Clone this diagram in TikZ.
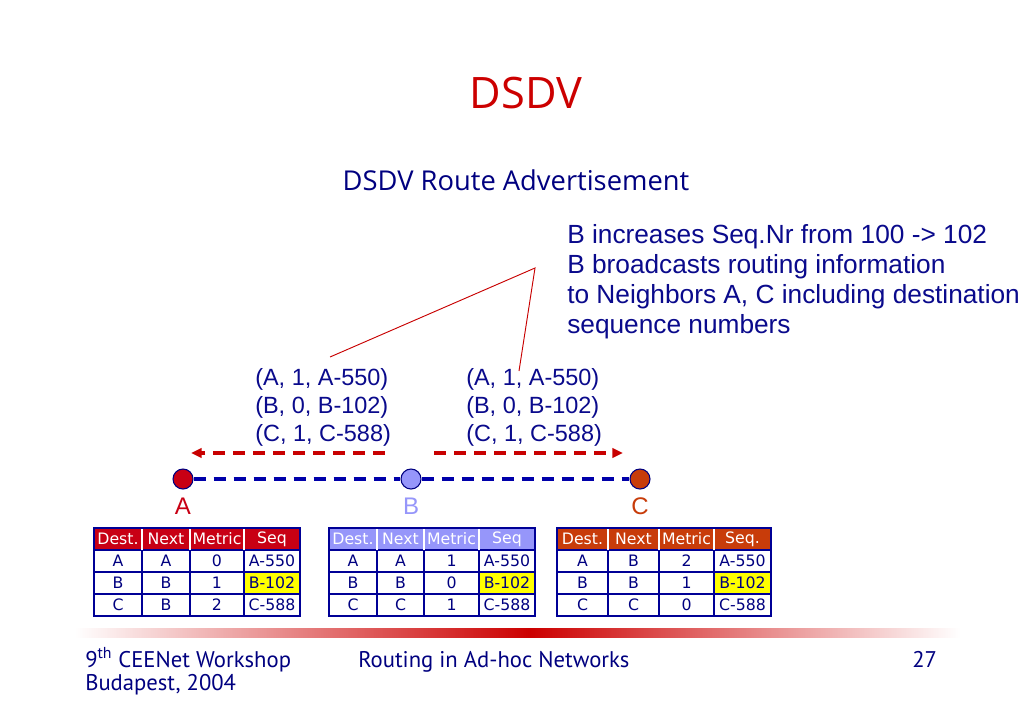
\documentclass[tikz,border=0pt]{standalone}
\usepackage{fontspec}
\setmainfont{Liberation Sans}
\newfontfamily\slidefont{Open Sans}
\newfontfamily\tabfont{DejaVu Sans}
\newfontfamily\footfont{PT Sans}
\usetikzlibrary{arrows.meta}
\definecolor{titlered}{RGB}{204,0,0}
\definecolor{navy}{RGB}{0,0,128}
\definecolor{txtblue}{RGB}{10,10,140}
\definecolor{lineblue}{RGB}{0,0,170}
\definecolor{bordblue}{RGB}{0,0,150}
\definecolor{nodeA}{RGB}{200,0,20}
\definecolor{nodeB}{RGB}{150,150,250}
\definecolor{nodeC}{RGB}{200,60,10}
\definecolor{hl}{RGB}{255,255,0}
\definecolor{msgred}{RGB}{200,0,0}
\newcommand\ca{0}\newcommand\cb{0}\newcommand\cc{0}\newcommand\cd{0}
\newcommand\trow[6]{%
  \node[cell] (#1a) at (\ca,#2) {#3};
  \node[cell] (#1b) at (\cb,#2) {#4};
  \node[cell] (#1c) at (\cc,#2) {#5};
  \node[cell] (#1d) at (\cd,#2) {#6};}
\newcommand\hrow[3]{%
  \node[hcell,text=#3] (#1a) at (\ca,539) {Dest.};
  \node[hcell,text=#3] (#1b) at (\cb,539) {Next};
  \node[hcell,text=#3] (#1c) at (\cc,539) {Metric};
  \node[hcell,text=#3] (#1d) at (\cd,539) {#2};}
\newcommand\tgrid[6]{% x0 x1 x2 x3 x4 headerfill
  \fill[#6] (#1,528) rectangle (#5,550);
  \fill[hl] (#4,572) rectangle (#5,594);
  \draw[inner] (#1,572) -- (#5,572) (#1,594) -- (#5,594) (#1,550) -- (#5,550);
  \draw[inner] (#2,550) -- (#2,616) (#3,550) -- (#3,616) (#4,550) -- (#4,616);
  \draw[hsep] (#2,528) -- (#2,550) (#3,528) -- (#3,550) (#4,528) -- (#4,550);
  \draw[tborder] (#1,528) rectangle (#5,616);}
\tikzset{
  cell/.style={font=\tabfont\fontsize{11.8}{13}\selectfont, text=navy, inner sep=0pt, anchor=center},
  hcell/.style={font=\tabfont\fontsize{11.8}{13}\selectfont, inner sep=0pt, anchor=center},
  inner/.style={draw=bordblue, line width=1.1pt},
  hsep/.style={draw=white, line width=1.1pt},
  tborder/.style={draw=bordblue, line width=2.2pt},
  msg/.style={font=\fontsize{17.6}{21}\selectfont, text=txtblue, align=left, anchor=north west, inner sep=0pt},
  netnode/.style={circle, draw=navy, line width=0.8pt, minimum size=15pt, inner sep=0pt},
  lbl/.style={font=\fontsize{18}{20}\selectfont, inner sep=0pt},
  link/.style={draw=lineblue, line width=2.4pt, dash pattern=on 9pt off 6pt},
  bcast/.style={draw=msgred, line width=2.4pt, dash pattern=on 9pt off 6pt, -{Triangle[length=8pt,width=7pt]}},
  callout/.style={draw=msgred, line width=0.7pt},
  foot/.style={font=\footfont\fontsize{17}{20}\selectfont, text=navy, inner sep=0pt, anchor=base west},
}
\begin{document}
\begin{tikzpicture}[x=0.75pt,y=-0.75pt]
\useasboundingbox (0,0) rectangle (1023,708);
\fill[white] (0,0) rectangle (1023,708);
% titles
\node[font=\slidefont\fontsize{32.5}{36}\selectfont, text=titlered, inner sep=0pt] (title) at (526,93) {DSDV};
\node[font=\slidefont\fontsize{20.5}{24}\selectfont, text=navy, inner sep=0pt] (subtitle) at (516,180) {DSDV Route Advertisement};
% callout text
\node[msg, font=\fontsize{19.7}{22.5}\selectfont] (note) at (567,224) {B increases Seq.Nr from 100 -> 102\\B broadcasts routing information\\to Neighbors A, C including destination\\sequence numbers};
% messages
\node[msg] (msgL) at (255,368) {(A, 1, A-550)\\(B, 0, B-102)\\(C, 1, C-588)};
\node[msg] (msgR) at (466,368) {(A, 1, A-550)\\(B, 0, B-102)\\(C, 1, C-588)};
\coordinate (apex) at (535,268);
\coordinate (cl) at (330,357);
\coordinate (cr) at (519,371);
\draw[callout] (cl) -- (apex) -- (cr);
% network
\node[netnode, fill=nodeA] (A) at (183,479) {};
\node[netnode, fill=nodeB] (B) at (411,479) {};
\node[netnode, fill=nodeC] (C) at (640,479) {};
\draw[link] (A) -- (B);
\draw[link] (B) -- (C);
\coordinate (bl0) at (385,453); \coordinate (bl1) at (191,453);
\coordinate (br0) at (434,453); \coordinate (br1) at (623,453);
\draw[bcast] (bl0) -- (bl1);
\draw[bcast] (br0) -- (br1);
\node[lbl, text=nodeA] (lA) at (183,506) {A};
\node[lbl, text=nodeB] (lB) at (411,506) {B};
\node[lbl, text=nodeC] (lC) at (640,506) {C};
% table A
\tgrid{94}{142}{190}{244}{300}{nodeA}
\renewcommand\ca{118}\renewcommand\cb{166}\renewcommand\cc{217}\renewcommand\cd{272}
\hrow{tah}{Seq}{white}
\trow{ta1}{561}{A}{A}{0}{A-550}
\trow{ta2}{583}{B}{B}{1}{B-102}
\trow{ta3}{605}{C}{B}{2}{C-588}
% table B
\tgrid{329}{377}{424}{479}{535}{nodeB}
\renewcommand\ca{353}\renewcommand\cb{400.5}\renewcommand\cc{451.5}\renewcommand\cd{507}
\hrow{tbh}{Seq}{white}
\trow{tb1}{561}{A}{A}{1}{A-550}
\trow{tb2}{583}{B}{B}{0}{B-102}
\trow{tb3}{605}{C}{C}{1}{C-588}
% table C
\tgrid{557}{608}{659}{714}{771}{nodeC}
\renewcommand\ca{582.5}\renewcommand\cb{633.5}\renewcommand\cc{686.5}\renewcommand\cd{742.5}
\hrow{tch}{Seq.}{white}
\trow{tc1}{561}{A}{B}{2}{A-550}
\trow{tc2}{583}{B}{B}{1}{B-102}
\trow{tc3}{605}{C}{C}{0}{C-588}
% gradient bar
\shade[left color=white, right color=titlered] (75,628) rectangle (530,637);
\shade[left color=titlered, right color=white] (530,628) rectangle (960,637);
% footer
\node[foot] (f1) at (85,667) {9\textsuperscript{th} CEENet Workshop};
\node[foot] (f1b) at (85,690) {Budapest, 2004};
\node[foot] (f2) at (358,667) {Routing in Ad-hoc Networks};
\node[foot] (f3) at (912,667) {27};
\end{tikzpicture}
\end{document}
